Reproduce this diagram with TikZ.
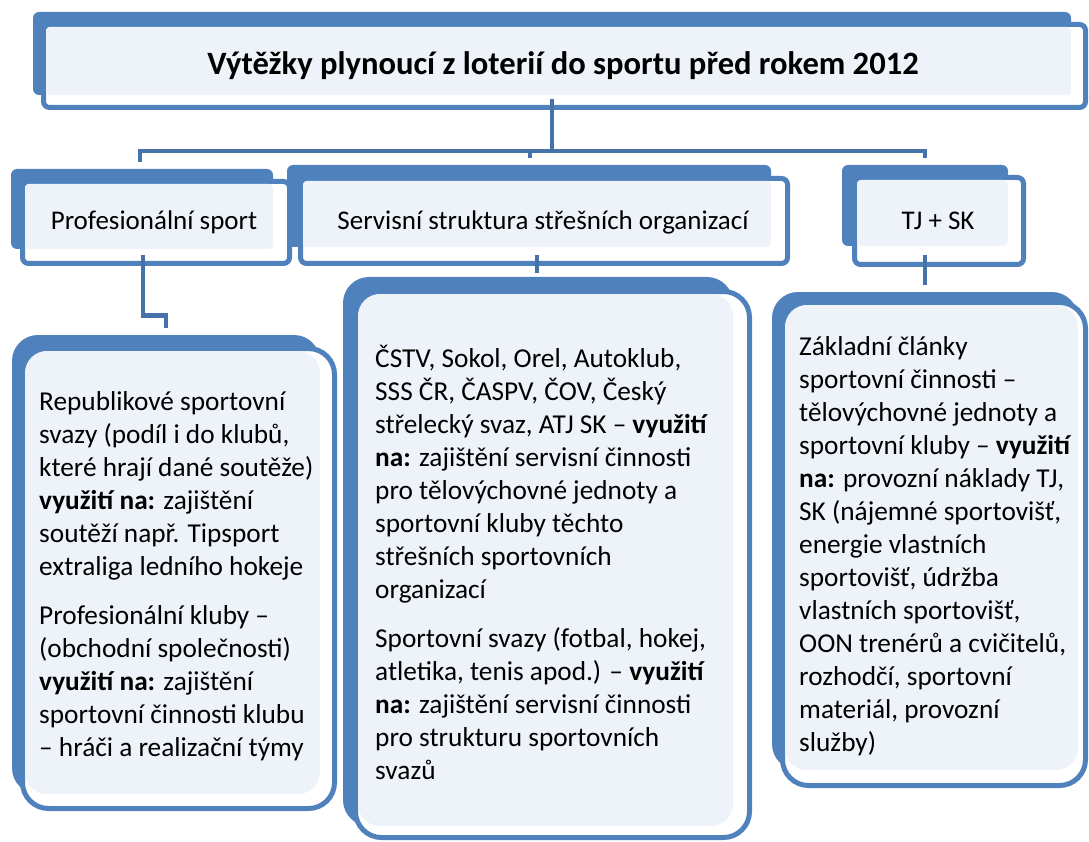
\documentclass[tikz,border=0pt]{standalone}
\usepackage{fontspec}
\setmainfont{Carlito}
\usepackage{tikz}
\usetikzlibrary{calc, positioning}
\definecolor{panelblue}{HTML}{4F81BD}
\definecolor{panelfill}{HTML}{EEF3FA}
\definecolor{linkblue}{HTML}{4672AA}

\begin{document}
\begin{tikzpicture}[x=1pt, y=-1pt,
    panelback/.style={fill=panelblue, draw=none, inner sep=0pt, outer sep=0pt, rounded corners=6pt},
    panelframe/.style={fill=white, draw=panelblue, line width=5pt, inner sep=0pt, outer sep=0pt, rounded corners=6pt},
    panellight/.style={fill=panelfill, rounded corners=4pt},
    bigpanel/.style={rounded corners=26pt},
    link/.style={draw=linkblue, line width=4.5pt},
    titletext/.style={font=\bfseries\fontsize{32.6}{38}\selectfont, inner sep=0pt},
    headtext/.style={font=\fontsize{27}{33}\selectfont, inner sep=0pt},
    bodytext/.style={font=\fontsize{27.3}{33}\selectfont, inner sep=0pt, align=left, anchor=base west}
]
    \useasboundingbox (0,0) rectangle (1089,842);

    % top level
    \node[panelback, minimum width=1038pt, minimum height=83pt] (titleback) at (552,53.5) {};
    \node[panelframe, minimum width=1042pt, minimum height=83pt] (titlebox) at (564.5,66) {};
    \fill[panellight] ($(titlebox.north west)+(2.5,2.5)$) rectangle (titleback.south east);

    % second level
    \node[panelback, minimum width=262pt, minimum height=80pt] (profback) at (142,209) {};
    \node[panelframe, minimum width=267pt, minimum height=82pt] (profbox) at (156,222.5) {};
    \fill[panellight] ($(profbox.north west)+(2.5,2.5)$) rectangle (profback.south east);

    \node[panelback, minimum width=484pt, minimum height=82pt] (servback) at (529,206) {};
    \node[panelframe, minimum width=487pt, minimum height=85pt] (servbox) at (544,221) {};
    \fill[panellight] ($(servbox.north west)+(2.5,2.5)$) rectangle (servback.south east);

    \node[panelback, minimum width=166pt, minimum height=81pt] (tjback) at (925,205.5) {};
    \node[panelframe, minimum width=169pt, minimum height=87pt] (tjbox) at (939,221) {};
    \fill[panellight] ($(tjbox.north west)+(2.5,2.5)$) rectangle (tjback.south east);

    % third level
    \node[panelback, bigpanel, minimum width=308pt, minimum height=459pt] (profpback) at (166,564.5) {};
    \node[panelframe, bigpanel, minimum width=312pt, minimum height=460pt] (profpanel) at (178.5,578.5) {};
    \fill[panellight, rounded corners=22pt] ($(profpanel.north west)+(2.5,2.5)$) rectangle (profpback.south east);

    \node[panelback, bigpanel, minimum width=390pt, minimum height=549pt] (servpback) at (538,551.5) {};
    \node[panelframe, bigpanel, minimum width=394pt, minimum height=546pt] (servpanel) at (552.5,564.5) {};
    \fill[panellight, rounded corners=22pt] ($(servpanel.north west)+(2.5,2.5)$) rectangle (servpback.south east);

    \node[panelback, bigpanel, minimum width=306pt, minimum height=478pt] (tjpback) at (925,531) {};
    \node[panelframe, bigpanel, minimum width=303pt, minimum height=483pt] (tjpanel) at (934,544) {};
    \fill[panellight, rounded corners=22pt] ($(tjpanel.north west)+(2.5,2.5)$) rectangle (tjpback.south east);

    % connectors
    \coordinate (hub) at (552,151);
    \coordinate (profjoint) at (140,162);
    \coordinate (servjoint) at (530,158);
    \coordinate (tjjoint) at (925,158);
    \draw[link] ($(titlebox.south -| hub)+(0,-8)$) -- (hub);
    \draw[link] (profjoint) |- (hub) -| (tjjoint);
    \draw[link] (servjoint) -- (servjoint |- hub);

    \coordinate (profdrop) at (143,255);
    \coordinate (profend) at (166,328);
    \draw[link] (profdrop) -- ++(0,60.5) -| (profend);
    \coordinate (servdrop) at (537,255);
    \draw[link] (servdrop) -- ++(0,18);
    \coordinate (tjdrop) at (925,255);
    \draw[link] (tjdrop) -- ++(0,30);

    % texts (base = last line)
    \node[titletext, anchor=base] (title) at (563,75) {Výtěžky plynoucí z loterií do sportu před rokem 2012};
    \node[headtext, anchor=base] (prof) at (154,230) {Profesionální sport};
    \node[headtext, anchor=base] (serv) at (543,230) {Servisní struktura střešních organizací};
    \node[headtext, anchor=base] (tjsk) at (938,230) {TJ + SK};

    \node[bodytext] (profnote) at (39,756) {Republikové sportovní\\
        svazy (podíl i do klubů,\\
        které hrají dané soutěže)\\
        \textbf{využití na:} zajištění\\
        soutěží např. Tipsport\\
        extraliga ledního hokeje\\[16pt]
        Profesionální kluby –\\
        (obchodní společnosti)\\
        \textbf{využití na:} zajištění\\
        sportovní činnosti klubu\\
        – hráči a realizační týmy};
    \node[bodytext] (servnote) at (375,779) {ČSTV, Sokol, Orel, Autoklub,\\
        SSS ČR, ČASPV, ČOV, Český\\
        střelecký svaz, ATJ SK – \textbf{využití}\\
        \textbf{na:} zajištění servisní činnosti\\
        pro tělovýchovné jednoty a\\
        sportovní kluby těchto\\
        střešních sportovních\\
        organizací\\[16pt]
        Sportovní svazy (fotbal, hokej,\\
        atletika, tenis apod.) – \textbf{využití}\\
        \textbf{na:} zajištění servisní činnosti\\
        pro strukturu sportovních\\
        svazů};
    \node[bodytext] (tjnote) at (799,751) {Základní články\\
        sportovní činnosti –\\
        tělovýchovné jednoty a\\
        sportovní kluby – \textbf{využití}\\
        \textbf{na:} provozní náklady TJ,\\
        SK (nájemné sportovišť,\\
        energie vlastních\\
        sportovišť, údržba\\
        vlastních sportovišť,\\
        OON trenérů a cvičitelů,\\
        rozhodčí, sportovní\\
        materiál, provozní\\
        služby)};
\end{tikzpicture}
\end{document}
